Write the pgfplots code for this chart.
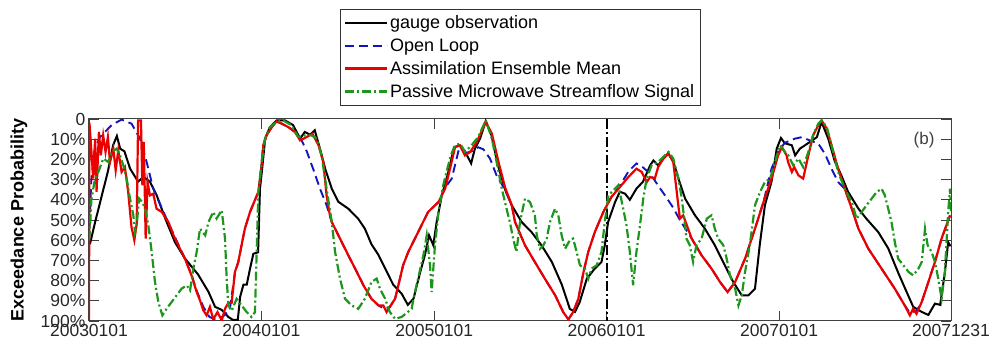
\documentclass[border=0pt]{standalone}
\usepackage{fontspec}
\setmainfont{Liberation Sans}
\usepackage{pgfplots}
\pgfplotsset{compat=1.18}
\definecolor{olblue}{RGB}{20,20,190}
\definecolor{asred}{RGB}{235,0,0}
\definecolor{pmgreen}{RGB}{30,150,30}
\pgfplotsset{
  obsstyle/.style={black, line width=2pt, solid},
  olstyle/.style={olblue, line width=1.9pt, dash pattern=on 9pt off 5pt},
  asstyle/.style={asred, line width=2.2pt, solid},
  pmstyle/.style={pmgreen, line width=2.2pt, dash pattern=on 9pt off 3pt on 2pt off 3pt},
}
\begin{document}
\begin{tikzpicture}
\path[use as bounding box] (-89pt,-26pt) rectangle (906pt,321pt);
\begin{axis}[
  at={(0pt,0pt)}, anchor=south west,
  scale only axis, width=862pt, height=202pt,
  xmin=0, xmax=1825, ymin=0, ymax=100, y dir=reverse,
  xtick={0,365,731,1096,1461,1825},
  xticklabels={20030101,20040101,20050101,20060101,20070101,20071231},
  ytick={0,10,20,30,40,50,60,70,80,90,100},
  yticklabels={0,10\%,20\%,30\%,40\%,50\%,60\%,70\%,80\%,90\%,100\%},
  tick align=inside, major tick length=10pt,
  tick style={black!75, line width=0.8pt},
  axis line style={black!75, line width=1pt},
  ticklabel style={font=\fontsize{17.5}{17.5}\selectfont, text=black!85},
  ylabel={Exceedance Probability},
  every axis y label/.style={at={(axis description cs:0,0.5)}, xshift=-70pt, rotate=90, anchor=center, font=\fontsize{18}{18}\selectfont\bfseries},
  legend style={at={(0.5,1)}, anchor=south, yshift=14pt, draw=black!80,
    font=\fontsize{18}{21}\selectfont, inner xsep=4pt, inner ysep=4pt, row sep=4.5pt},
  legend cell align=left,
  legend image code/.code={\draw[#1] (0pt,0pt) -- (42pt,0pt);},
]
\addlegendimage{obsstyle}
\addlegendentry{gauge observation}
\addlegendimage{olstyle}
\addlegendentry{Open Loop}
\addlegendimage{asstyle}
\addlegendentry{Assimilation Ensemble Mean}
\addlegendimage{pmstyle}
\addlegendentry{Passive Microwave Streamflow Signal}
\addplot[black, line width=2pt, dash pattern=on 10pt off 3pt on 2pt off 3pt, forget plot] coordinates {(1096,0) (1096,100)};
\addplot[obsstyle, forget plot] coordinates {
(2,62) (13,51) (27,38) (40,26) (51,13) (59,8.4) (66,14.7) (75,16) (87,24.6) (104,31) (115,28.7) (129,31) (143,37.6) (161,49) (182,61) (203,69) (231,77) (253,85.6) (267,93) (281,94.5) (295,98) (305,99.5) (315,99.5) (320,88) (327,82) (334,82) (341,74) (348,66.7) (358,66) (362,34.5) (366,26) (373,9.7) (383,4) (397,0.7) (415,0.7) (432,3) (447,9.7) (457,6.4) (468,7.8) (478,5.6) (489,14.7) (500,24.6) (514,34.5) (528,41) (549,44.4) (570,49.4) (584,54.3) (598,62) (612,67) (627,74) (644,82) (662,86.5) (675,92) (687,89) (701,76) (711,67.5) (720,57.6) (729,62.5) (736,51) (747,37.8) (761,26) (773,14) (785,13) (796,16) (809,22) (817,14.7) (828,9.7) (840,1) (852,8) (866,23) (881,35) (895,42.7) (916,51) (937,56) (958,62.5) (980,70.8) (1001,82) (1018,94) (1029,95.5) (1039,90.6) (1054,79) (1071,74) (1085,70.8) (1092,62.5) (1099,51) (1114,41) (1124,36) (1135,37) (1145,40) (1159,34.5) (1173,31) (1188,23) (1195,20.5) (1205,23) (1216,19.6) (1226,17) (1237,21) (1248,29.5) (1262,39.4) (1283,47.7) (1304,54.3) (1325,62.5) (1346,72.4) (1364,80.7) (1382,87.3) (1396,87.3) (1410,84) (1420,62.5) (1431,42.7) (1445,31) (1456,14.7) (1465,9.4) (1473,12) (1488,13) (1495,18) (1505,14.7) (1516,13) (1526,11.4) (1541,9) (1551,1.5) (1565,9.7) (1579,21) (1593,28) (1607,36) (1629,44.4) (1646,49.4) (1671,56) (1692,64) (1713,76) (1731,85.6) (1745,93) (1763,95.5) (1777,97) (1791,91.4) (1802,92) (1812,76) (1819,61) (1824,63)
};
\addplot[olstyle, forget plot] coordinates {
(0,60) (5,30) (12,15) (23,9) (48,3) (69,0.3) (90,2.3) (108,9.7) (122,21.3) (136,34.5) (161,47.7) (179,57) (189,62) (203,69) (217,77) (228,85) (242,93) (255,98) (270,99.5) (285,97.5) (298,94.5) (309,76) (316,71) (323,62.5) (330,54.3) (341,46) (351,40.3) (358.5,36.2) (364,26.2) (369,13) (376,8) (387,4) (397,1.2) (408,2.3) (422,4) (436,6.5) (450,10.5) (461,16) (475,25) (489,34.5) (503,42.7) (514,51) (521,54.3) (535,60.9) (549,67.5) (567,75.7) (581,82.3) (598,89) (613,92.3) (625,94) (637,93) (648,89) (655,82.3) (665,72.4) (676,65.8) (690,59.2) (704,52.6) (718,46) (740,41.1) (754,34) (768,29.5) (782,16) (796,17) (810,16) (824,14) (835,15) (849,19.6) (863,28) (881,35) (895,42.7) (902,51) (923,62.5) (944,70.8) (965,79) (987,87.3) (1004,95.6) (1015,99.2) (1025,95.6) (1036,89) (1047,75.7) (1057,65.8) (1071,55.9) (1089,46) (1106,38.6) (1124,33) (1142,26) (1159,22) (1173,24) (1188,27) (1205,33) (1223,39) (1237,44) (1251,50) (1276,59.2) (1297,67.5) (1318,74.1) (1336,80.7) (1352,85.7) (1368,80.7) (1389,69.1) (1410,54.3) (1428,41.1) (1445,24.6) (1459,16.3) (1473,11.8) (1495,9.7) (1509,9) (1526,10.6) (1544,12.2) (1558,17.2) (1572,24.6) (1586,31.2) (1600,34.5) (1615,44.4) (1629,54.3) (1650,64.2) (1678,74.1) (1706,84) (1727,92.3) (1738,96) (1752,95) (1763,90.6) (1777,80.7) (1791,70.8) (1805,59.2) (1823,47.7)
};
\addplot[asstyle, forget plot] coordinates {
(0,99) (1,2) (9,29.5) (13,9.7) (16,36) (21,6.4) (25,18) (30,8.1) (35,16.3) (40,9) (44.5,21.3) (51.5,14.7) (56.5,25.4) (62,15.5) (69,26.2) (76,23.8) (83,36.2) (90,53.5) (96,60) (101,51.8) (104,0.7) (110,0.7) (113,32.8) (116,11.4) (120,59.2) (124,31.2) (129,37.8) (136,37) (143,44.4) (154,46) (168,51) (179,57.6) (189,62.5) (203,69.1) (217,77.4) (228,85.7) (235,89.8) (242,94.7) (249,97.2) (256,93) (263,99.2) (272,95.6) (281,99.7) (288,93.9) (295,91) (302,91) (309,75.7) (316,70.8) (323,62.5) (330,54.3) (341,46) (351,40.3) (358.5,36.2) (364,26.2) (369,13) (376,8.1) (387,4) (397,1.2) (408,2.3) (422,4) (436,6.4) (447,10.6) (461,8.9) (473,7.3) (486,13) (496,21.3) (503,37.8) (510,47.7) (514,51) (521,54.3) (535,60.9) (549,67.5) (567,75.7) (581,82.3) (598,89) (613,92.3) (623,92.3) (630,95.6) (637,93) (648,89) (655,82.3) (665,72.4) (676,65.8) (690,59.2) (704,52.6) (718,46) (740,41.1) (754,34.5) (766,23) (775,13.9) (785,13) (796,18) (807,16.3) (821,11.4) (840,1.5) (853,7.3) (867,21.3) (881,34) (895,42.7) (902,51) (923,62.5) (944,70.8) (965,79) (987,87.3) (1004,95.6) (1015,99.2) (1025,95.6) (1036,89) (1047,75.7) (1057,65.8) (1071,55.9) (1089,46) (1106,38.6) (1124,33.7) (1142,28.7) (1159,24.6) (1170,26.2) (1181,31.2) (1188,28.7) (1198,29.5) (1205,23.8) (1216,19.6) (1227,17.2) (1237,21.3) (1246,39.4) (1251,49.3) (1258,47.7) (1276,59.2) (1297,67.5) (1318,74.1) (1336,80.7) (1352,85.7) (1368,80.7) (1389,69.1) (1410,54.3) (1428,41.1) (1445,29.5) (1459,18) (1467,13.9) (1477,18) (1480,21.3) (1488,26.2) (1493,23.8) (1502,27.9) (1512,29.5) (1523,18) (1533,8.1) (1544,3.1) (1551,0.7) (1562,4.8) (1572,13) (1586,24.6) (1600,34.5) (1615,44.4) (1629,54.3) (1650,64.2) (1678,74.1) (1706,84) (1727,92.3) (1738,97.2) (1745,93.9) (1752,96.4) (1763,90.6) (1777,80.7) (1791,70.8) (1805,59.2) (1823,47.7)
};
\addplot[pmstyle, forget plot] coordinates {
(0,60) (2,55) (5,40) (12.7,29.5) (19.8,26.2) (30.3,19.6) (41,21.3) (48,16.3) (58.6,14.7) (65.6,18) (72.7,23) (79.7,29.5) (86.8,39.4) (93.9,47.7) (97.4,56) (101,52.6) (106,39.4) (113,41.1) (118.6,44.4) (125.6,52.6) (132.7,65.8) (139.7,80.7) (146.8,90.6) (155.3,97.2) (164.4,93.9) (175,90.6) (185.6,87.3) (196,84) (207,82.4) (214,84.8) (221,74.1) (228,65.8) (235,54.3) (246,57.6) (253,51) (263,46) (270,49.3) (281,45.2) (288,59.2) (291.5,79) (295,92.3) (302,95) (312.6,89) (323,92.3) (334,95.6) (344,98) (351.4,95.6) (355,65.8) (358.5,36.2) (365.5,21.3) (372.6,9.7) (383,4) (397,1.5) (411,0.7) (429,3.1) (443,8.9) (457,8.1) (471,8.1) (482,9.7) (492.5,18) (503,34.5) (514,51) (521,65.8) (531.4,79) (542,89) (556,92.3) (570,94) (584,89) (598,80.7) (609,79) (616,84) (627,89) (637,95.6) (648,98.9) (662,98) (683,94) (690,85.7) (708,67.5) (715,57.6) (722,72.4) (725.4,85.7) (732.5,62.5) (740,46) (750,32.8) (757,26.2) (766,18) (775,13) (786,12.2) (796,16.3) (810,13) (824,8.9) (840,0.7) (853,9.7) (863,21.3) (874,34.5) (884,44.4) (891,51) (898,59.2) (905,65.8) (912.5,51) (923,39.4) (933.6,41.1) (944,47.7) (948,57.6) (955,64.2) (962,62.5) (969,59.2) (976,51) (986.6,44.4) (993.6,47.7) (1000.7,57.6) (1008,64.2) (1018,60) (1025,59.2) (1032.4,65.8) (1039.5,72.4) (1050,74.1) (1057,79) (1064,74.1) (1075,72.4) (1085,65.8) (1092,51) (1099.5,37.8) (1106.5,36.2) (1120.6,32.8) (1131,44.4) (1138,52.6) (1145,65.8) (1152,82.3) (1159,65.8) (1166.5,52.6) (1173.5,39.4) (1180.6,29.5) (1191,23) (1205,21.3) (1219,18) (1227,16.3) (1237,19.6) (1248,29.5) (1255,39.4) (1262,52.6) (1265,59.2) (1272,62.5) (1279,70.8) (1286,62.5) (1297,59.2) (1308,49.3) (1318,47.7) (1325,54.3) (1332,59.2) (1343,62.5) (1350,69.1) (1357,77.4) (1368,84) (1375,92.3) (1382,87.3) (1389,75.7) (1399,62.5) (1410,42.7) (1420.6,36.2) (1431,31.2) (1442,29.5) (1452.5,21.3) (1463,13) (1473.5,16.3) (1480.5,18) (1491,23) (1502,19.6) (1512,23.8) (1523,16.3) (1533,8.1) (1544,2.3) (1551,0.7) (1562,4) (1572,13) (1586,26.2) (1600,34.5) (1615,41.1) (1625,49.3) (1636,46) (1646,42.7) (1657,39.4) (1667.5,36.2) (1678,34.5) (1685,37.8) (1692,44.4) (1699,51) (1706,60.9) (1713,69.1) (1724,72.4) (1735,75.7) (1745,77.4) (1756,74.1) (1763,70.8) (1770,54.3) (1775.5,62.5) (1784,65.8) (1791,70.8) (1798,79) (1805,89) (1812,75.7) (1819,46) (1823,34.5) (1825,46)
};
\node[font=\fontsize{17}{17}\selectfont, text=black!75] at (axis cs:1768,10.4) {(b)};
\end{axis}
\end{tikzpicture}
\end{document}
